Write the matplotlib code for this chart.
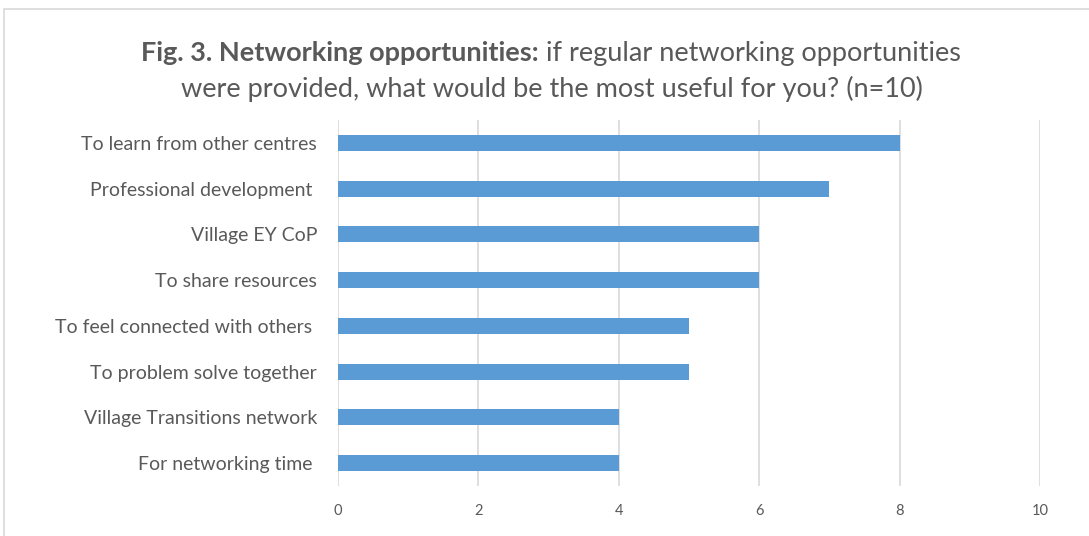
import matplotlib
matplotlib.use("Agg")
import matplotlib.pyplot as plt
from matplotlib.patches import Rectangle

categories = [
    "To learn from other centres",
    "Professional development ",
    "Village EY CoP",
    "To share resources",
    "To feel connected with others ",
    "To problem solve together",
    "Village Transitions network",
    "For networking time ",
]
counts = [8, 7, 6, 6, 5, 5, 4, 4]
xticks = [0, 2, 4, 6, 8, 10]

title_bold = "Fig. 3. Networking opportunities:"
title_rest = " if regular networking opportunities"
title_line2 = "were provided, what would be the most useful for you? (n=10)"

bar_color = "#5b9bd5"
text_color = "#595959"
font = ["Lato", "DejaVu Sans"]

fig = plt.figure(figsize=(10.89, 5.36), dpi=100)
fig.patches.append(Rectangle((0.004, -0.05), 1.1, 1.033, transform=fig.transFigure,
                             fill=False, edgecolor="#d9d9d9", linewidth=1.2))

ax = fig.add_axes([0.3104, 0.0933, 0.6446, 0.6827])
ypos = list(range(len(categories)))
ax.barh(ypos, counts, height=0.35, color=bar_color, zorder=3)
ax.set_ylim(len(categories) - 0.5, -0.5)
ax.set_xlim(0, 10)
ax.set_xticks(xticks)
ax.set_yticks(ypos)
ax.set_yticklabels(categories, fontsize=14, color=text_color, family=font)
ax.set_xticklabels([str(t) for t in xticks], fontsize=10.5, color=text_color, family=font)
ax.tick_params(axis="y", length=0, pad=15)
ax.tick_params(axis="x", length=0, pad=13)
ax.grid(axis="x", color="#d9d9d9", linewidth=1.2, zorder=0)
for s in ax.spines.values():
    s.set_visible(False)

# title: bold lead-in followed by regular text, centred as one line
renderer = fig.canvas.get_renderer()
tb = fig.text(0, 0.886, title_bold, fontsize=19.5, fontweight="bold", color=text_color,
              family=font, va="baseline")
tr = fig.text(0, 0.886, title_rest, fontsize=19.5, color=text_color, family=font, va="baseline")
wb = tb.get_window_extent(renderer).width / fig.bbox.width
wr = tr.get_window_extent(renderer).width / fig.bbox.width
x0 = 0.506 - (wb + wr) / 2
tb.set_x(x0)
tr.set_x(x0 + wb)
fig.text(0.507, 0.819, title_line2, fontsize=19.5, color=text_color, family=font,
         ha="center", va="baseline")

fig.savefig("out.png", dpi=100)
